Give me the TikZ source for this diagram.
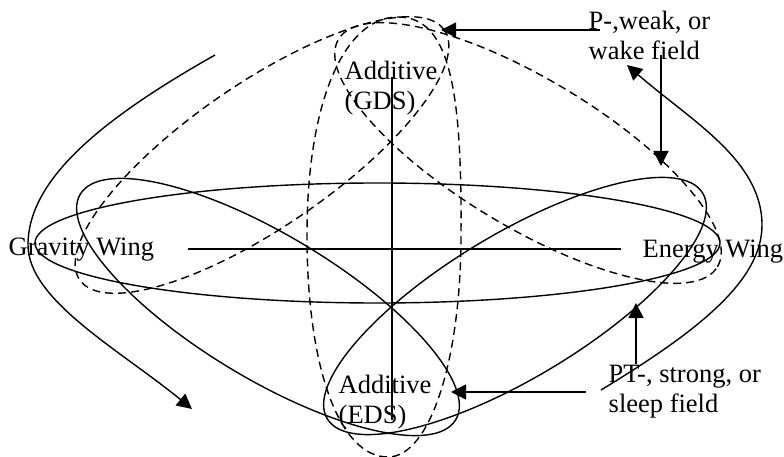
\documentclass[tikz,border=0pt]{standalone}
\usepackage{fontspec}
\setmainfont{Liberation Serif}
\usetikzlibrary{arrows.meta}
\begin{document}
\begin{tikzpicture}[x=1pt,y=-1pt,
  line width=1.4pt,
  solidshape/.style={draw=black, line width=1.4pt},
  dashshape/.style={draw=black, line width=1.4pt, dash pattern=on 8pt off 5pt},
  arr/.style={draw=black, line width=1.4pt, -{Triangle[length=15pt,width=15pt]}},
  lbl/.style={anchor=base west, inner sep=0pt, font=\fontsize{26.5}{30}\selectfont}]
\path[use as bounding box, fill=white] (0,0) rectangle (784,457);

% big horizontal ellipse
\draw[solidshape] (377.5,243) ellipse [x radius=342.5pt, y radius=60pt];
% axes
\coordinate (hl) at (188,249); \coordinate (hr) at (621,249);
\coordinate (vt) at (392,77); \coordinate (vb) at (392,420);
\draw[solidshape] (hl) -- (hr);
\draw[solidshape] (vt) -- (vb);
% solid lobes
\draw[solidshape, rotate around={-31:(268,307)}] (268,307) ellipse [x radius=219pt, y radius=72pt];
\draw[solidshape, rotate around={31:(515,306)}] (515,306) ellipse [x radius=219pt, y radius=72pt];
% dashed tilted ellipses
\draw[dashshape, rotate around={34.4:(262,155)}] (262,155) ellipse [x radius=221pt, y radius=72pt];
\draw[dashshape, rotate around={-31:(528,153)}] (528,153) ellipse [x radius=221pt, y radius=74pt];
% vertical dashed oval
\draw[dashshape] (398,17) .. controls (450,17) and (462,90) .. (461,235)
  .. controls (461,360) and (430,457) .. (388,457)
  .. controls (340,457) and (307,370) .. (307,235)
  .. controls (307,100) and (345,17) .. cycle;

% labels
\node[lbl] (gds) at (344,80) {\begin{tabular}[t]{@{}l@{}}Additive\\(GDS)\end{tabular}};
\node[lbl] (eds) at (338,393) {\begin{tabular}[t]{@{}l@{}}Additive\\(EDS)\end{tabular}};
\node[lbl] (grav) at (8,255) {Gravity Wing};
\node[lbl] (ener) at (642,257) {Energy Wing};
\node[lbl] (pw) at (588,30) {\begin{tabular}[t]{@{}l@{}}P-,weak, or\\wake field\end{tabular}};
\node[lbl] (pt) at (608,382) {\begin{tabular}[t]{@{}l@{}}PT-, strong, or\\sleep field\end{tabular}};

% swoosh arrows
\coordinate (ls0) at (215,55); \coordinate (ls1) at (28,245); \coordinate (ls2) at (192,409);
\draw[arr] (ls0) .. controls (100,120) and (28,180) .. (ls1) .. controls (28,300) and (120,350) .. (ls2);
\coordinate (rs0) at (601,390); \coordinate (rs1) at (762,225); \coordinate (rs2) at (627,65);
\draw[arr] (rs0) .. controls (700,330) and (762,280) .. (rs1) .. controls (762,160) and (690,120) .. (rs2);

% pointer arrows
\coordinate (pwa) at (600,30); \coordinate (pwat) at (441,30);
\coordinate (pwb) at (661,55); \coordinate (pwbt) at (661,166);
\coordinate (pta) at (636,364); \coordinate (ptat) at (636,303);
\coordinate (ptb) at (586,392); \coordinate (ptbt) at (451,392);
\draw[arr] (pwa) -- (pwat);
\draw[arr] (pwb) -- (pwbt);
\draw[arr] (pta) -- (ptat);
\draw[arr] (ptb) -- (ptbt);
\end{tikzpicture}
\end{document}
